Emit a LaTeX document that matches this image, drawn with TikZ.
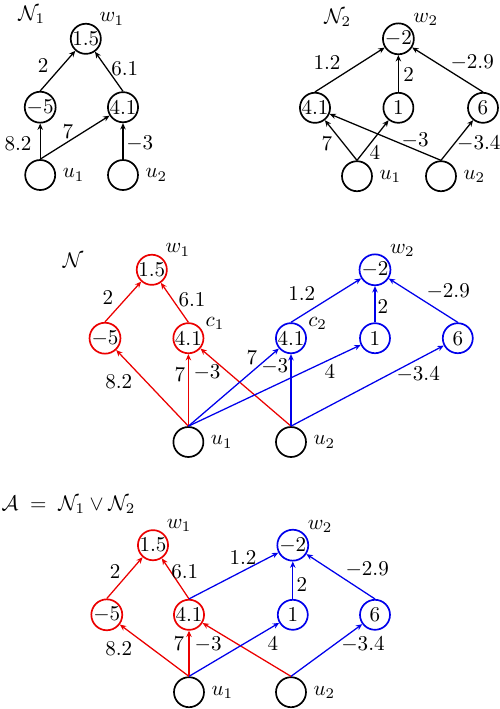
\documentclass[tikz,border=0pt]{standalone}
\definecolor{NetRed}{RGB}{235,0,0}
\definecolor{NetBlue}{RGB}{0,0,235}
\usepackage{amsmath}
\usetikzlibrary{positioning,arrows.meta}
\tikzset{
  neuron/.style={circle,draw,thick,minimum size=0.5cm,inner sep=0pt},
  rneuron/.style={neuron,draw=NetRed},
  bneuron/.style={neuron,draw=NetBlue},
  arrow/.style={-{Stealth[length=3pt,width=2.6pt]},semithick},
  rarrow/.style={arrow,draw=NetRed},
  barrow/.style={arrow,draw=NetBlue},
}
\begin{document}
\begin{tikzpicture}[every label/.style={inner sep=1pt}]
      \useasboundingbox (0,0) rectangle (8.333,11.817);
      % N_1
      \node (t1) at (0.53,11.57) {$\mathcal{N}_1$};
      \node[neuron,label=45:$w_1$] (w11) at (1.43,11.17) {$1.5$};
      \node[neuron] (a1) at (0.67,10.03) {$-5$};
      \node[neuron] (b1) at (2.05,10.03) {$4.1$};
      \node[neuron,label={[inner sep=3pt]right:$u_1$}] (u11) at (0.67,8.90) {};
      \node[neuron,label={[inner sep=3pt]right:$u_2$}] (u21) at (2.05,8.90) {};
      \draw[arrow] (a1.north) -- (w11) node at (0.72,10.73) {$2$};
      \draw[arrow] (b1.north) -- (w11) node at (2.08,10.68) {$6.1$};
      \draw[arrow] (u11.north) -- (a1) node at (0.30,9.43) {$8.2$};
      \draw[arrow] (u11.north) -- (b1) node at (1.13,9.62) {$7$};
      \draw[arrow] (u21.north) -- (b1) node at (2.33,9.43) {$-3$};
      % N_2
      \node (t2) at (5.63,11.52) {$\mathcal{N}_2$};
      \node[neuron,label=40:$w_2$] (w22) at (6.64,11.17) {$-2$};
      \node[neuron] (c2) at (5.25,10.02) {$4.1$};
      \node[neuron] (d2) at (6.64,10.02) {$1$};
      \node[neuron] (e2) at (8.05,10.02) {$6$};
      \node[neuron,label={[inner sep=3pt]right:$u_1$}] (u12) at (5.95,8.88) {};
      \node[neuron,label={[inner sep=3pt]right:$u_2$}] (u22) at (7.35,8.88) {};
      \draw[arrow] (c2.north) -- (w22) node at (5.45,10.78) {$1.2$};
      \draw[arrow] (d2.north) -- (w22) node at (6.81,10.57) {$2$};
      \draw[arrow] (e2.north) -- (w22) node at (7.87,10.78) {$-2.9$};
      \draw[arrow] (u12.north) -- (c2) node at (5.45,9.43) {$7$};
      \draw[arrow] (u12.north) -- (d2) node at (6.25,9.28) {$4$};
      \draw[arrow] (u22.north) -- (c2) node at (6.92,9.48) {$-3$};
      \draw[arrow] (u22.north) -- (e2) node at (7.98,9.42) {$-3.4$};
      % N
      \node (tn) at (1.22,7.48) {$\mathcal{N}$};
      \node[rneuron,label=45:$w_1$] (nw1) at (2.53,7.32) {$1.5$};
      \node[rneuron] (na) at (1.75,6.18) {$-5$};
      \node[rneuron,label=22:$c_1$] (nc1) at (3.14,6.18) {$4.1$};
      \node[bneuron,label=22:$c_2$] (nc2) at (4.85,6.18) {$4.1$};
      \node[bneuron] (nd) at (6.25,6.18) {$1$};
      \node[bneuron] (ne) at (7.63,6.18) {$6$};
      \node[bneuron,label=40:$w_2$] (nw2) at (6.25,7.32) {$-2$};
      \node[neuron,label={[inner sep=3pt]right:$u_1$}] (nu1) at (3.14,4.45) {};
      \node[neuron,label={[inner sep=3pt]right:$u_2$}] (nu2) at (4.85,4.45) {};
      \draw[rarrow] (na.north) -- (nw1) node at (1.80,6.85) {$2$};
      \draw[rarrow] (nc1.north) -- (nw1) node at (3.20,6.82) {$6.1$};
      \draw[rarrow] (nu1.north) -- (na) node at (1.98,5.45) {$8.2$};
      \draw[rarrow] (nu1.north) -- (nc1) node at (3.00,5.57) {$7$};
      \draw[rarrow] (nu2.north) -- (nc1) node at (3.45,5.60) {$-3$};
      \draw[barrow] (nc2.north) -- (nw2) node at (5.03,6.93) {$1.2$};
      \draw[barrow] (nd.north) -- (nw2) node at (6.38,6.70) {$2$};
      \draw[barrow] (ne.north) -- (nw2) node at (7.47,6.95) {$-2.9$};
      \draw[barrow] (nu1.north) -- (nc2) node at (4.20,5.85) {$7$};
      \draw[barrow] (nu2.north) -- (nc2) node at (4.58,5.70) {$-3$};
      \draw[barrow] (nu1.north) -- (nd) node at (5.50,5.62) {$4$};
      \draw[barrow] (nu2.north) -- (ne) node at (6.97,5.57) {$-3.4$};
      % A = N_1 v N_2
      \node[anchor=west,inner sep=0pt] (ta) at (0.02,3.40) {$\mathcal{A}\;=\;\mathcal{N}_1\vee\mathcal{N}_2$};
      \node[rneuron,label=45:$w_1$] (aw1) at (2.55,2.73) {$1.5$};
      \node[rneuron] (aa) at (1.78,1.57) {$-5$};
      \node[rneuron] (ab) at (3.15,1.57) {$4.1$};
      \node[bneuron] (ad) at (4.88,1.57) {$1$};
      \node[bneuron] (ae) at (6.25,1.57) {$6$};
      \node[bneuron,label=40:$w_2$] (aw2) at (4.88,2.73) {$-2$};
      \node[neuron,label={[inner sep=3pt]right:$u_1$}] (au1) at (3.15,0.28) {};
      \node[neuron,label={[inner sep=3pt]right:$u_2$}] (au2) at (4.85,0.28) {};
      \draw[rarrow] (aa.north) -- (aw1) node at (1.92,2.28) {$2$};
      \draw[rarrow] (ab.north) -- (aw1) node at (3.08,2.28) {$6.1$};
      \draw[rarrow] (au1.north) -- (aa) node at (1.98,1.00) {$8.2$};
      \draw[rarrow] (au1.north) -- (ab) node at (2.98,1.08) {$7$};
      \draw[rarrow] (au2.north) -- (ab) node at (3.47,1.07) {$-3$};
      \draw[barrow] (ab.north) -- (aw2) node at (4.05,2.52) {$1.2$};
      \draw[barrow] (ad.north) -- (aw2) node at (5.03,2.07) {$2$};
      \draw[barrow] (ae.north) -- (aw2) node at (6.12,2.32) {$-2.9$};
      \draw[barrow] (au1.north) -- (ad) node at (4.55,1.08) {$4$};
      \draw[barrow] (au2.north) -- (ae) node at (6.05,1.07) {$-3.4$};
    \end{tikzpicture}
\end{document}
